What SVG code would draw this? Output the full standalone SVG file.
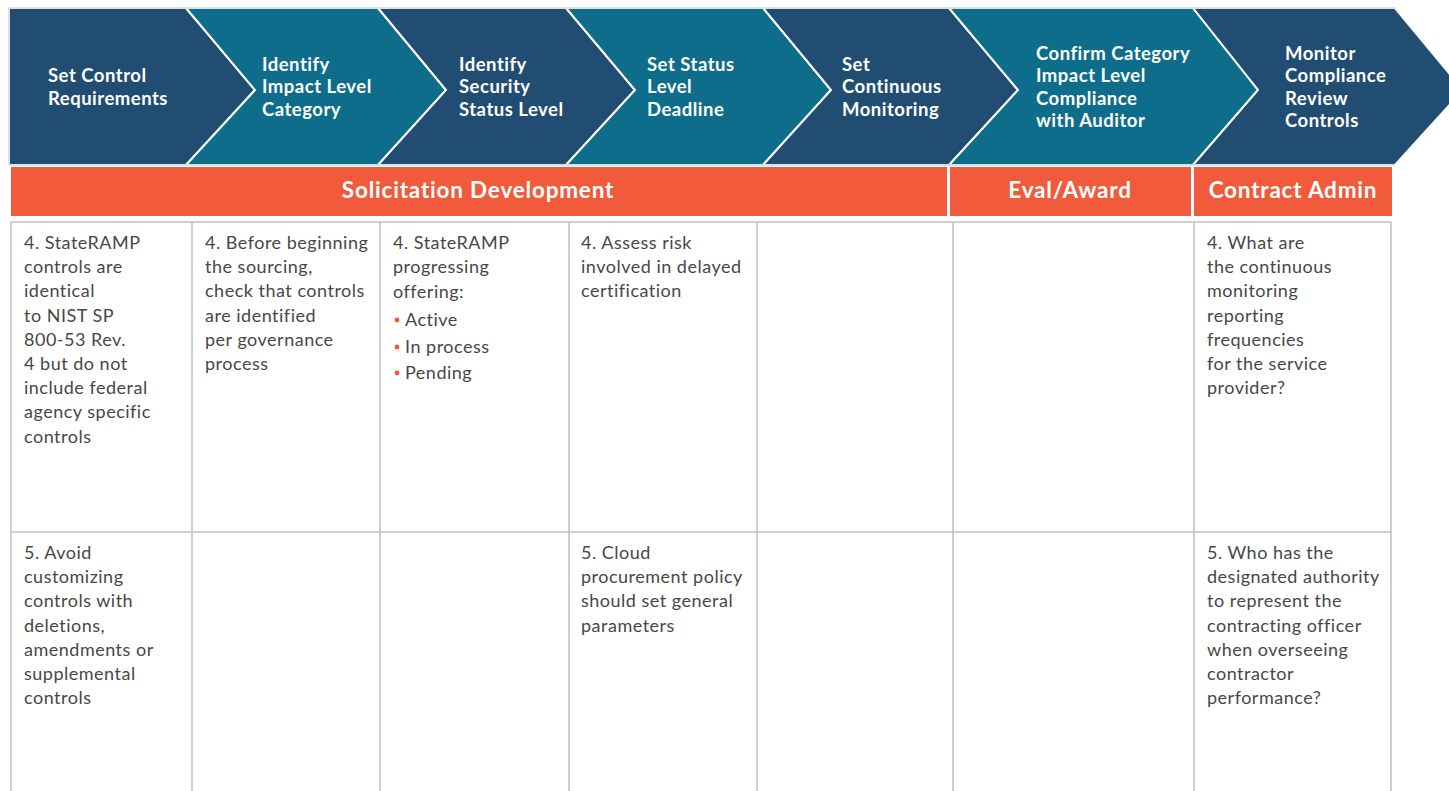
<svg xmlns="http://www.w3.org/2000/svg" width="1449" height="791" viewBox="0 0 1449 791">
<style>
.dk{fill:#214d72}
.tl{fill:#0e6d8b}
.chev{stroke:#ffffff;stroke-width:2;stroke-linejoin:miter}
.ht{font-family:Lato,"Liberation Sans",sans-serif;font-weight:700;font-size:18.5px;letter-spacing:0.5px;fill:#ffffff}
.ob{fill:#f15a3b}
.ot{font-family:Lato,"Liberation Sans",sans-serif;font-weight:700;font-size:22.5px;letter-spacing:0.8px;fill:#ffffff;text-anchor:middle}
.grid{stroke:#c0c0c0;stroke-width:1.5;fill:none}
.ct{font-family:Lato,"Liberation Sans",sans-serif;font-size:18px;letter-spacing:0.5px;fill:#474747}
.bul{fill:#f15a3b}
</style>
<rect width="1449" height="791" fill="#ffffff"/>
<g id="chevrons">
<g id="step1"><polygon class="dk chev" points="9,8 186,8 255,90 186,165 9,165"/>
<text class="ht" x="48" y="82">Set Control</text><text class="ht" x="48" y="105">Requirements</text></g>
<g id="step2"><polygon class="tl chev" points="186,8 378,8 446,90 378,165 186,165 255,90"/>
<text class="ht" x="262" y="71">Identify</text><text class="ht" x="262" y="93">Impact Level</text><text class="ht" x="262" y="116">Category</text></g>
<g id="step3"><polygon class="dk chev" points="378,8 566,8 635,90 566,165 378,165 446,90"/>
<text class="ht" x="459" y="71">Identify</text><text class="ht" x="459" y="93">Security</text><text class="ht" x="459" y="116">Status Level</text></g>
<g id="step4"><polygon class="tl chev" points="566,8 763,8 831,90 763,165 566,165 635,90"/>
<text class="ht" x="647" y="71">Set Status</text><text class="ht" x="647" y="93">Level</text><text class="ht" x="647" y="116">Deadline</text></g>
<g id="step5"><polygon class="dk chev" points="763,8 949,8 1018,90 949,165 763,165 831,90"/>
<text class="ht" x="842" y="71">Set</text><text class="ht" x="842" y="93">Continuous</text><text class="ht" x="842" y="116">Monitoring</text></g>
<g id="step6"><polygon class="tl chev" points="949,8 1193,8 1258,90 1193,165 949,165 1018,90"/>
<text class="ht" x="1036" y="60">Confirm Category</text><text class="ht" x="1036" y="82">Impact Level</text><text class="ht" x="1036" y="105">Compliance</text><text class="ht" x="1036" y="127">with Auditor</text></g>
<g id="step7"><polygon class="dk chev" points="1193,8 1395,8 1463,90 1395,165 1193,165 1258,90"/>
<text class="ht" x="1285" y="60">Monitor</text><text class="ht" x="1285" y="82">Compliance</text><text class="ht" x="1285" y="105">Review</text><text class="ht" x="1285" y="127">Controls</text></g>
<polyline points="1395,8 9,8 9,165 1395,165" fill="none" stroke="#b8c2cc" stroke-width="1"/>
</g>
<g id="phases">
<g id="phase-solicitation"><rect class="ob" x="11" y="167" width="936" height="49"/><text class="ot" x="478" y="198">Solicitation Development</text></g>
<g id="phase-eval"><rect class="ob" x="950" y="167" width="241" height="49"/><text class="ot" x="1070" y="198">Eval/Award</text></g>
<g id="phase-contract"><rect class="ob" x="1194" y="167" width="198" height="49"/><text class="ot" x="1293" y="198">Contract Admin</text></g>
</g>
<g id="table">
<path class="grid" d="M11,222 H1391 M11,532 H1391 M11,222 V791 M192,222 V791 M380,222 V791 M569,222 V791 M757,222 V791 M953,222 V791 M1194,222 V791 M1391,222 V791"/>
</g>
<g id="cell-1-4"><text class="ct" x="24" y="249">4. StateRAMP</text><text class="ct" x="24" y="273">controls are</text><text class="ct" x="24" y="297">identical</text><text class="ct" x="24" y="322">to NIST SP</text><text class="ct" x="24" y="346">800-53 Rev.</text><text class="ct" x="24" y="370">4 but do not</text><text class="ct" x="24" y="394">include federal</text><text class="ct" x="24" y="418">agency specific</text><text class="ct" x="24" y="443">controls</text></g>
<g id="cell-2-4"><text class="ct" x="205" y="249">4. Before beginning</text><text class="ct" x="205" y="273">the sourcing,</text><text class="ct" x="205" y="297">check that controls</text><text class="ct" x="205" y="322">are identified</text><text class="ct" x="205" y="346">per governance</text><text class="ct" x="205" y="370">process</text></g>
<g id="cell-3-4"><text class="ct" x="393" y="249">4. StateRAMP</text><text class="ct" x="393" y="273">progressing</text><text class="ct" x="393" y="298">offering:</text>
<circle class="bul" cx="397" cy="320" r="2.4"/><text class="ct" x="405" y="326">Active</text>
<circle class="bul" cx="397" cy="347" r="2.4"/><text class="ct" x="405" y="353">In process</text>
<circle class="bul" cx="397" cy="373" r="2.4"/><text class="ct" x="405" y="379">Pending</text></g>
<g id="cell-4-4"><text class="ct" x="581" y="249">4. Assess risk</text><text class="ct" x="581" y="273">involved in delayed</text><text class="ct" x="581" y="297">certification</text></g>
<g id="cell-7-4"><text class="ct" x="1207" y="249">4. What are</text><text class="ct" x="1207" y="273">the continuous</text><text class="ct" x="1207" y="297">monitoring</text><text class="ct" x="1207" y="322">reporting</text><text class="ct" x="1207" y="346">frequencies</text><text class="ct" x="1207" y="370">for the service</text><text class="ct" x="1207" y="394">provider?</text></g>
<g id="cell-1-5"><text class="ct" x="24" y="559">5. Avoid</text><text class="ct" x="24" y="583">customizing</text><text class="ct" x="24" y="607">controls with</text><text class="ct" x="24" y="632">deletions,</text><text class="ct" x="24" y="656">amendments or</text><text class="ct" x="24" y="680">supplemental</text><text class="ct" x="24" y="704">controls</text></g>
<g id="cell-4-5"><text class="ct" x="581" y="559">5. Cloud</text><text class="ct" x="581" y="583">procurement policy</text><text class="ct" x="581" y="607">should set general</text><text class="ct" x="581" y="632">parameters</text></g>
<g id="cell-7-5"><text class="ct" x="1207" y="559">5. Who has the</text><text class="ct" x="1207" y="583">designated authority</text><text class="ct" x="1207" y="607">to represent the</text><text class="ct" x="1207" y="632">contracting officer</text><text class="ct" x="1207" y="656">when overseeing</text><text class="ct" x="1207" y="680">contractor</text><text class="ct" x="1207" y="704">performance?</text></g>
</svg>
